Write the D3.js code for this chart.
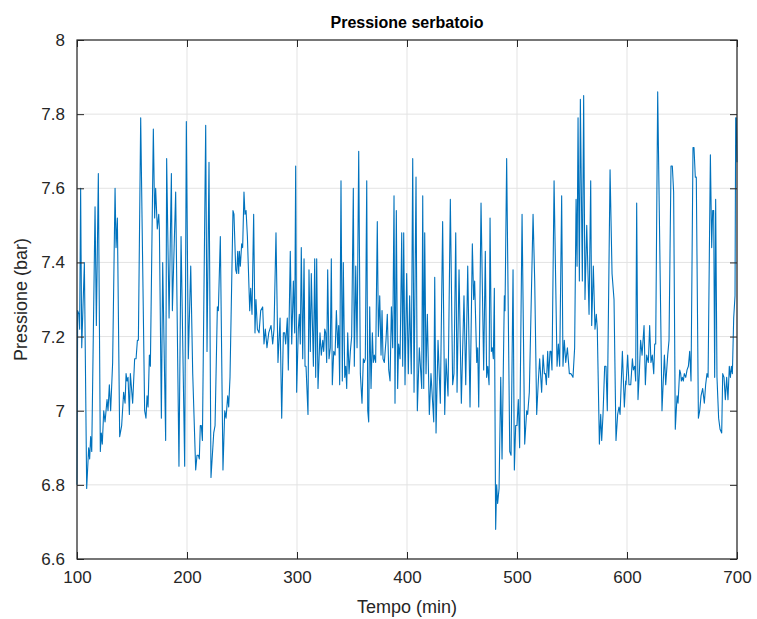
<!DOCTYPE html>
<html>
<head>
<meta charset="utf-8">
<script src="https://cdn.jsdelivr.net/npm/d3@7"></script>
<style>
  body { margin: 0; background: #fff; }
  svg { display: block; font-family: "Liberation Sans", Arial, Helvetica, sans-serif; }
</style>
</head>
<body>
<svg id="chart" width="757" height="619"></svg>
<script>
// tempo (min) e pressione (bar)
var tempo = [
  100.0,100.6,101.8,102.4,103.3,104.3,106.7,108.8,110.6,111.5,112.4,113.4,116.4,117.6,119.4,121.2,122.1,123.0,124.3,125.5,
  127.3,128.2,129.4,130.6,132.4,134.6,135.5,136.7,138.8,140.6,142.4,143.7,144.6,145.5,146.4,147.6,148.5,150.6,152.4,153.7,
  154.9,155.8,157.9,161.5,162.7,163.7,164.6,165.8,166.7,169.4,170.6,171.5,173.0,174.3,174.9,176.7,177.9,180.6,181.5,183.7,
  185.8,186.7,189.7,192.7,194.6,197.9,199.4,201.2,203.4,205.2,207.9,209.1,210.3,211.2,212.1,213.0,214.0,217.0,218.2,220.0,
  221.8,224.3,225.5,227.6,228.5,230.3,232.7,234.3,235.5,237.0,237.9,239.1,241.8,242.7,244.3,245.2,246.1,247.0,247.6,248.5,
  249.7,250.6,251.8,252.7,253.7,254.9,257.0,257.9,259.1,260.6,261.8,262.7,264.0,265.5,267.0,268.8,270.0,271.2,272.7,274.3,
  276.4,277.9,279.1,280.9,282.7,284.6,286.1,287.6,288.8,289.7,291.2,292.1,293.9,295.2,296.7,297.9,298.8,299.7,301.2,302.1,
  303.0,303.9,305.2,306.4,307.3,308.2,310.0,310.9,312.1,313.0,314.9,316.1,317.0,317.9,319.1,320.9,322.1,323.4,324.3,325.2,
  326.1,327.0,327.9,329.1,330.3,331.2,332.1,333.4,334.6,335.8,337.0,337.9,338.8,340.0,341.2,342.1,343.4,344.3,345.2,346.1,
  347.3,348.5,349.7,351.2,352.1,353.4,354.6,356.1,357.6,359.1,360.3,361.2,362.1,363.4,364.3,365.2,366.1,367.3,368.5,369.4,
  370.3,371.5,373.0,374.0,375.2,376.4,377.3,378.2,379.4,380.9,382.1,383.4,384.6,385.8,387.0,388.2,389.1,390.3,391.5,392.4,
  393.7,395.2,396.1,397.0,398.2,399.7,401.2,402.4,403.9,405.2,406.4,408.2,409.4,411.2,413.4,414.3,415.2,416.1,417.3,418.5,
  420.3,421.8,424.3,425.2,426.4,428.2,430.3,432.4,434.3,435.5,437.3,439.4,441.5,442.7,444.3,445.5,447.3,449.4,451.8,453.4,
  455.2,457.3,459.4,460.6,461.5,463.4,464.3,465.2,467.3,469.7,471.2,472.4,473.4,474.6,475.5,476.7,477.6,478.5,479.4,480.6,
  481.5,482.4,483.7,485.2,486.4,488.5,489.1,490.6,493.4,494.6,496.4,497.6,498.8,500.0,501.2,502.4,504.6,507.0,508.8,509.7,
  511.2,514.6,516.1,517.9,519.4,520.6,522.4,523.7,524.9,525.8,526.7,527.9,528.8,530.0,530.9,531.8,533.7,536.4,537.6,538.8,
  540.6,541.8,543.0,544.3,545.8,547.6,549.1,550.9,552.4,553.7,554.6,555.5,556.7,557.6,559.4,560.6,561.8,563.4,565.5,567.0,
  567.9,569.4,570.9,572.1,573.0,574.9,576.1,577.0,578.2,579.7,580.9,582.1,584.6,586.4,588.2,590.0,591.5,592.7,593.7,595.8,
  597.6,598.8,599.1,600.6,601.8,603.4,604.9,605.8,607.0,607.9,608.8,610.0,611.2,612.4,613.7,615.5,616.7,617.9,619.4,620.6,
  621.8,623.0,624.3,625.2,626.1,627.9,631.8,634.0,635.2,637.0,638.2,640.0,641.2,642.4,643.9,645.5,646.4,647.9,648.8,649.4,
  650.3,651.2,652.1,653.4,654.6,655.8,657.0,658.2,660.0,660.9,662.1,663.0,664.9,666.1,667.3,668.8,670.3,671.5,672.7,673.7,
  675.8,677.0,677.9,678.8,679.7,680.6,681.8,683.3,684.6,686.1,687.0,688.2,689.4,690.6,691.8,693.0,694.0,694.9,695.8,697.0,
  698.2,698.8,699.4,700.0
];
var pressione = [
  6.80,7.27,7.26,7.22,7.60,7.17,7.40,6.79,6.90,6.87,6.93,6.89,7.55,7.23,7.64,6.89,6.94,6.91,7.00,6.97,
  7.03,7.00,7.07,7.00,7.13,7.60,7.44,7.52,6.93,6.96,7.05,7.02,7.10,7.08,7.09,6.99,7.10,7.02,7.14,7.14,
  7.19,7.19,7.79,7.00,6.98,7.04,7.01,7.15,7.12,7.76,7.52,7.60,7.49,7.53,7.49,6.98,7.40,6.92,7.68,7.25,
  7.64,7.27,7.59,6.85,7.47,6.85,7.78,7.14,7.39,7.10,6.84,6.88,6.88,6.87,6.96,6.96,6.92,7.77,7.16,7.67,
  6.82,6.94,6.96,7.28,7.27,7.47,6.84,7.00,6.98,7.04,7.01,7.09,7.54,7.53,7.38,7.37,7.43,7.37,7.43,7.39,
  7.45,7.44,7.59,7.53,7.54,7.47,7.27,7.33,7.26,7.53,7.21,7.30,7.22,7.21,7.27,7.28,7.18,7.22,7.17,7.21,
  7.23,7.18,7.22,7.48,7.13,7.25,6.98,7.21,7.21,7.18,7.25,7.11,7.43,7.18,7.35,7.21,7.66,7.05,7.22,7.26,
  7.18,7.44,7.14,7.41,7.12,7.12,6.99,7.38,7.16,7.37,7.12,7.41,7.09,7.41,7.06,7.21,7.15,7.19,7.16,7.22,
  7.21,7.13,7.38,7.14,7.17,7.41,7.07,7.16,7.15,7.27,7.17,7.23,7.07,7.62,7.08,7.40,7.09,7.12,7.06,7.21,
  7.10,7.16,7.20,7.60,7.12,7.39,7.17,7.70,7.10,7.02,7.14,7.13,7.14,7.62,7.00,6.97,7.28,7.06,7.21,7.13,
  7.15,7.13,7.51,7.20,7.31,7.15,7.27,7.14,7.13,7.19,7.26,7.11,7.08,7.28,7.17,7.58,7.02,7.54,7.06,7.18,
  7.14,7.48,7.12,7.48,7.07,7.37,7.10,7.31,7.10,7.68,7.05,7.63,7.00,7.17,7.06,7.58,7.06,7.48,7.10,7.26,
  6.99,7.10,6.97,7.36,6.94,7.19,7.02,7.51,6.99,7.14,7.04,7.57,7.07,7.10,7.48,7.05,7.38,7.02,7.31,7.07,
  7.39,7.01,7.45,7.30,7.35,7.13,7.17,7.01,7.56,7.11,7.43,7.09,7.12,7.07,7.52,7.16,7.17,7.14,7.33,6.68,
  6.80,6.75,6.79,7.09,6.87,7.31,7.27,7.68,6.89,6.88,7.38,6.84,6.96,6.96,7.03,6.90,7.53,6.91,7.00,6.99,
  7.05,7.53,7.35,6.99,7.08,7.14,7.05,7.15,7.10,7.10,7.07,7.16,7.09,7.16,7.16,7.11,7.62,7.12,7.18,7.12,
  7.58,7.12,7.19,7.13,7.17,7.10,7.10,7.09,7.17,7.57,7.39,7.79,7.35,7.84,7.35,7.85,7.30,7.50,7.26,7.62,
  7.23,7.39,7.22,7.26,7.22,6.91,6.99,6.92,6.99,7.12,7.12,7.00,7.65,7.37,7.30,6.92,6.99,7.01,6.99,7.16,
  7.01,7.08,7.07,7.15,7.07,7.07,7.14,7.11,7.12,7.08,7.56,7.03,7.10,7.19,7.15,7.23,7.07,7.15,7.13,7.23,
  7.13,7.15,7.10,7.18,7.18,7.86,7.00,7.15,7.07,7.15,7.19,7.66,7.66,7.59,6.95,7.04,7.02,7.11,7.10,7.08,
  7.09,7.08,7.10,7.09,7.11,7.12,7.16,7.08,7.71,7.71,7.63,7.63,6.98,7.00,7.04,7.06,7.02,7.07,7.10,7.09,
  7.69,7.44,7.54,7.54,7.09,7.57,7.09,6.98,6.95,6.94,7.10,7.09,7.03,7.09,7.03,7.12,7.09,7.12,7.10,7.25,
  7.31,7.79,7.79,7.67
];
var xTicks = [100, 200, 300, 400, 500, 600, 700];
var yTicks = [6.6, 6.8, 7, 7.2, 7.4, 7.6, 7.8, 8];

var svg = d3.select("#chart");
var margin = {top: 40, right: 20, bottom: 60, left: 77};
var width = 660, height = 519;
var g = svg.append("g").attr("transform", "translate(" + margin.left + "," + margin.top + ")");

var x = d3.scaleLinear().domain([100, 700]).range([0, width]);
var y = d3.scaleLinear().domain([6.6, 8]).range([height, 0]);

var axisColor = "#262626";

// griglia
g.append("g").selectAll("line.gx").data(xTicks).enter().append("line")
  .attr("x1", function(d){ return x(d); }).attr("x2", function(d){ return x(d); })
  .attr("y1", 0).attr("y2", height)
  .attr("stroke", "#e3e3e3").attr("stroke-width", 1);
g.append("g").selectAll("line.gy").data(yTicks).enter().append("line")
  .attr("x1", 0).attr("x2", width)
  .attr("y1", function(d){ return y(d); }).attr("y2", function(d){ return y(d); })
  .attr("stroke", "#e3e3e3").attr("stroke-width", 1);

// serie
var data = tempo.map(function(t, i){ return {t: t, p: pressione[i]}; });
var line = d3.line()
  .x(function(d){ return x(d.t); })
  .y(function(d){ return y(d.p); });

g.append("path")
  .datum(data)
  .attr("fill", "none")
  .attr("stroke", "#0072BD")
  .attr("stroke-width", 1.1)
  .attr("stroke-linejoin", "round")
  .attr("d", line);

// assi stile MATLAB (tacche verso l'interno, su tutti i lati)
function styleAxis(sel){
  sel.select(".domain").remove();
  sel.selectAll(".tick line").attr("stroke", axisColor).attr("stroke-width", 1);
  sel.selectAll(".tick text").attr("fill", axisColor).attr("font-size", "17px");
}

var tickLen = 7;
g.append("g")
  .attr("transform", "translate(0," + height + ")")
  .call(d3.axisBottom(x).tickValues(xTicks).tickSizeInner(-tickLen).tickSizeOuter(0).tickPadding(12))
  .call(styleAxis);
g.append("g")
  .call(d3.axisTop(x).tickValues(xTicks).tickSizeInner(-tickLen).tickSizeOuter(0).tickFormat(""))
  .call(styleAxis);
g.append("g")
  .call(d3.axisLeft(y).tickValues(yTicks).tickSizeInner(-tickLen).tickSizeOuter(0).tickPadding(12)
    .tickFormat(function(d){ return d3.format("")(+d.toFixed(1)); }))
  .call(styleAxis);
g.append("g")
  .attr("transform", "translate(" + width + ",0)")
  .call(d3.axisRight(y).tickValues(yTicks).tickSizeInner(-tickLen).tickSizeOuter(0).tickFormat(""))
  .call(styleAxis);

// riquadro
g.append("rect")
  .attr("x", 0).attr("y", 0).attr("width", width).attr("height", height)
  .attr("fill", "none").attr("stroke", axisColor).attr("stroke-width", 1.2);

// testi
svg.append("text")
  .attr("x", margin.left + width / 2).attr("y", 28)
  .attr("text-anchor", "middle").attr("font-size", "16px").attr("font-weight", "bold")
  .attr("fill", "#000")
  .text("Pressione serbatoio");

svg.append("text")
  .attr("x", margin.left + width / 2).attr("y", 613)
  .attr("text-anchor", "middle").attr("font-size", "18px").attr("fill", axisColor)
  .text("Tempo (min)");

svg.append("text")
  .attr("transform", "translate(27," + (margin.top + height / 2) + ") rotate(-90)")
  .attr("text-anchor", "middle").attr("font-size", "18px").attr("fill", axisColor)
  .text("Pressione (bar)");
</script>
</body>
</html>
